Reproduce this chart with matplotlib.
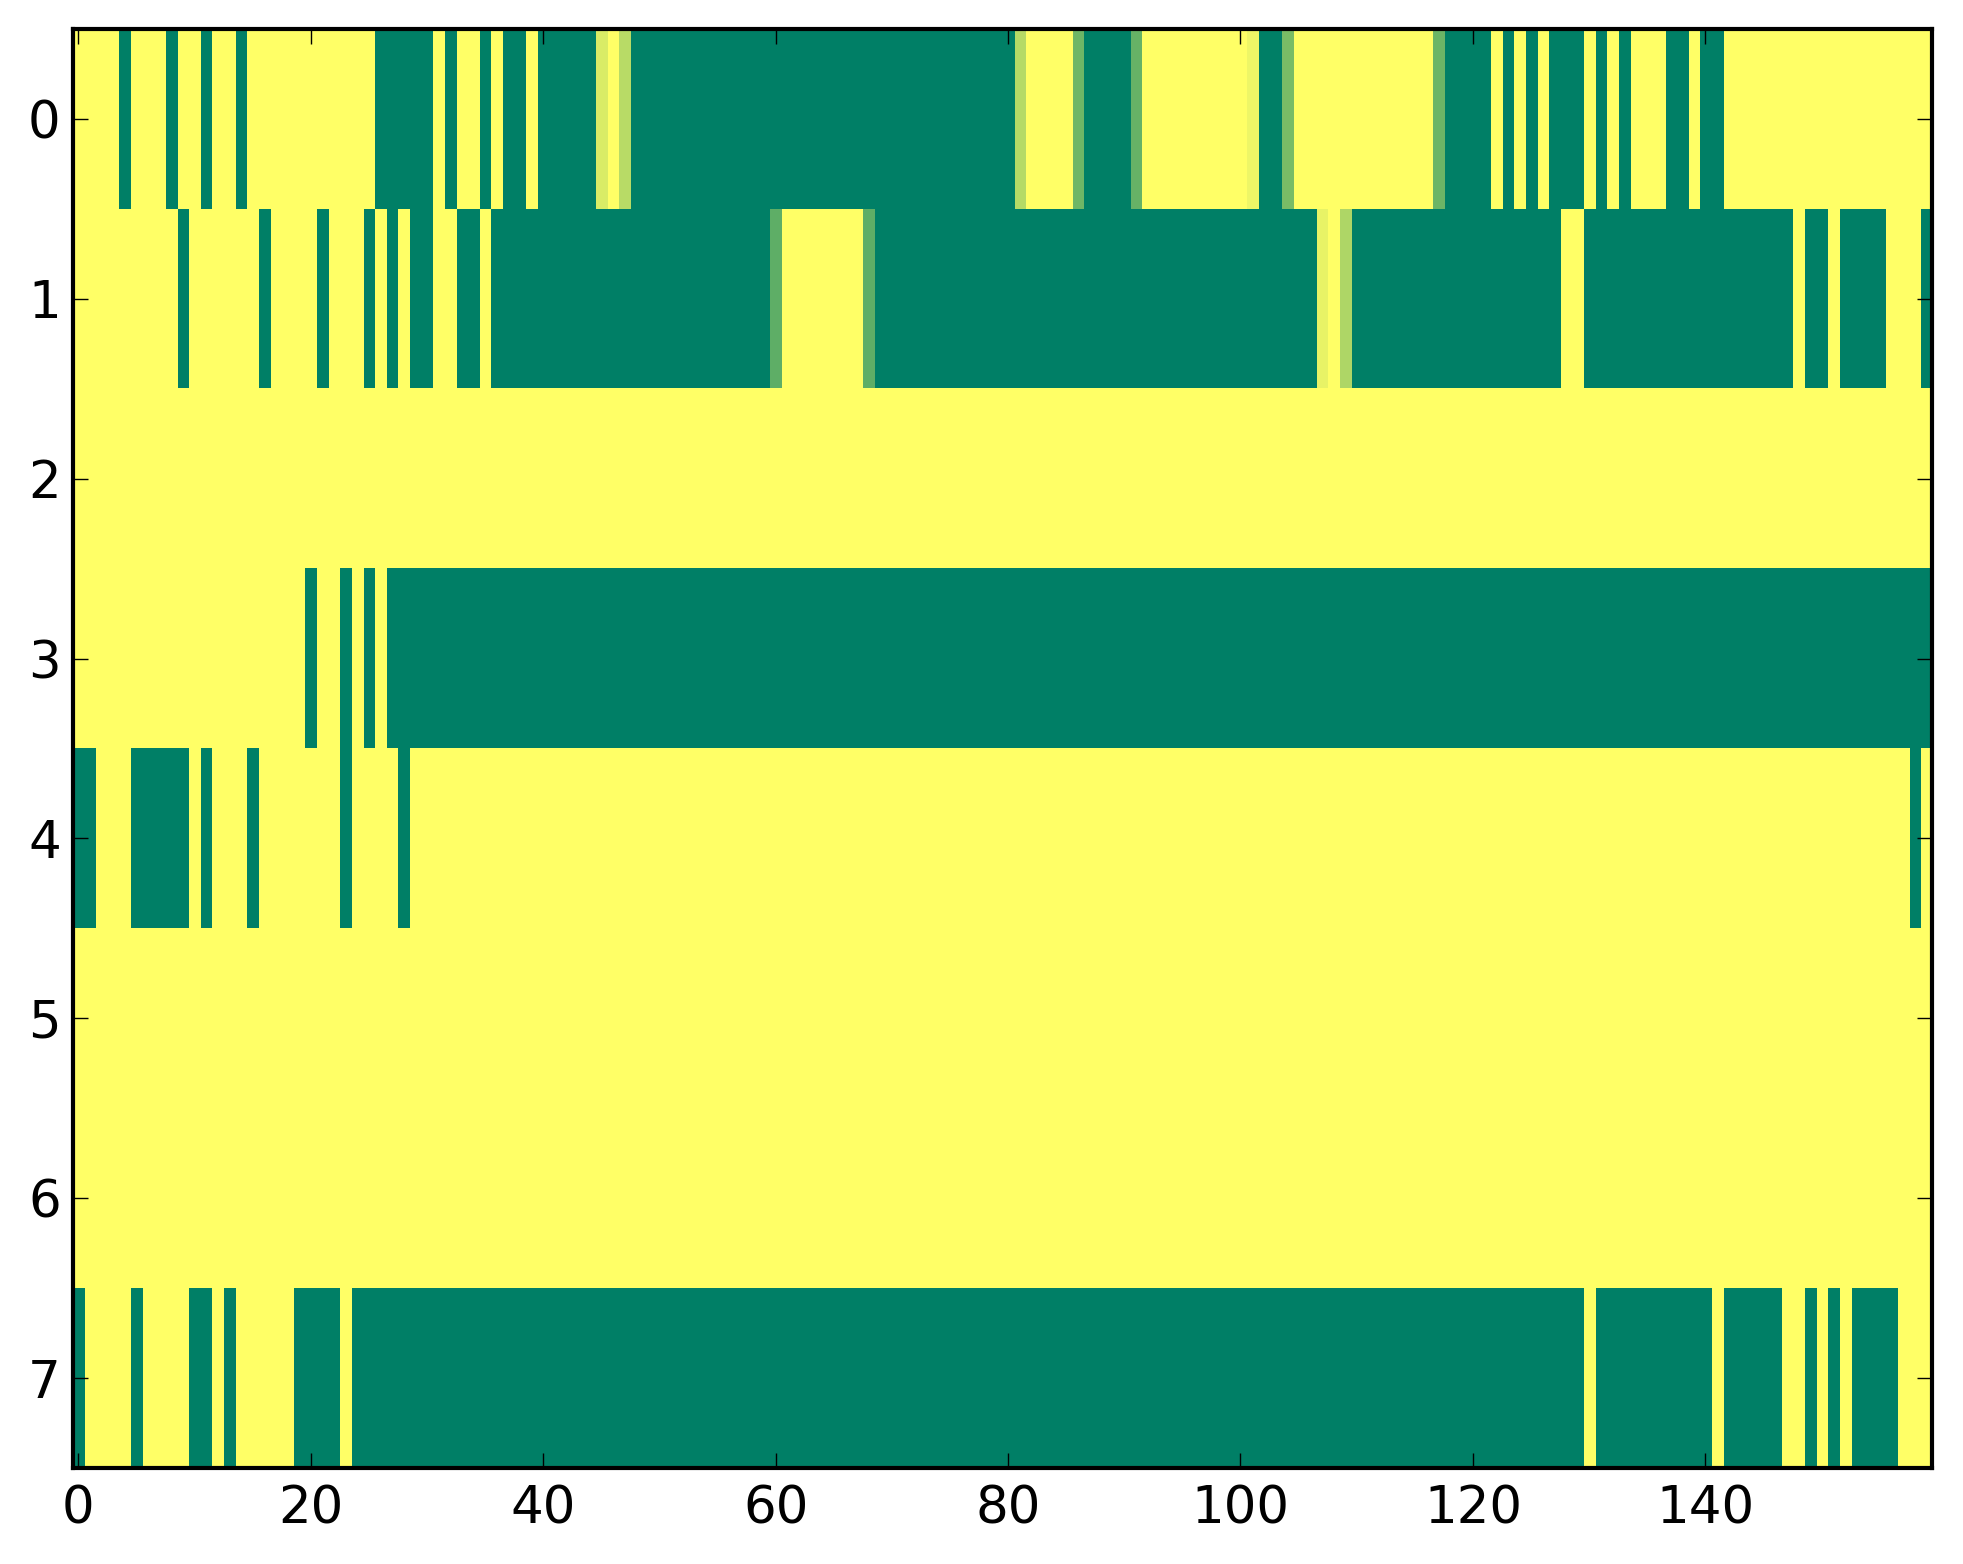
import numpy as np
import matplotlib
matplotlib.use("Agg")
import matplotlib.pyplot as plt

# one list per row, 160 columns each
row0 = [1, 1, 1, 1, 0, 1, 1, 1, 0, 1, 1, 0, 1, 1, 0, 1, 1, 1, 1, 1,
        1, 1, 1, 1, 1, 1, 0, 0, 0, 0, 0, 1, 0, 1, 1, 0, 1, 0, 0, 1,
        0, 0, 0, 0, 0, .85, 1, .72, 0, 0, 0, 0, 0, 0, 0, 0, 0, 0, 0, 0,
        0, 0, 0, 0, 0, 0, 0, 0, 0, 0, 0, 0, 0, 0, 0, 0, 0, 0, 0, 0,
        0, .71, 1, 1, 1, 1, .43, 0, 0, 0, 0, .40, 1, 1, 1, 1, 1, 1, 1, 1,
        1, .93, 0, 0, .48, 1, 1, 1, 1, 1, 1, 1, 1, 1, 1, 1, 1, .42, 0, 0,
        0, 0, 1, 0, 1, 0, 1, 0, 0, 0, 1, 0, 1, 0, 1, 1, 1, 0, 0, 1,
        0, 0, 1, 1, 1, 1, 1, 1, 1, 1, 1, 1, 1, 1, 1, 1, 1, 1, 1, 1]
row1 = [1, 1, 1, 1, 1, 1, 1, 1, 1, 0, 1, 1, 1, 1, 1, 1, 0, 1, 1, 1,
        1, 0, 1, 1, 1, 0, 1, 0, 1, 0, 0, 1, 1, 0, 0, 1, 0, 0, 0, 0,
        0, 0, 0, 0, 0, 0, 0, 0, 0, 0, 0, 0, 0, 0, 0, 0, 0, 0, 0, 0,
        .37, 1, 1, 1, 1, 1, 1, 1, .37, 0, 0, 0, 0, 0, 0, 0, 0, 0, 0, 0,
        0, 0, 0, 0, 0, 0, 0, 0, 0, 0, 0, 0, 0, 0, 0, 0, 0, 0, 0, 0,
        0, 0, 0, 0, 0, 0, 0, .91, 1, .68, 0, 0, 0, 0, 0, 0, 0, 0, 0, 0,
        0, 0, 0, 0, 0, 0, 0, 0, 1, 1, 0, 0, 0, 0, 0, 0, 0, 0, 0, 0,
        0, 0, 0, 0, 0, 0, 0, 0, 1, 0, 0, 1, 0, 0, 0, 0, 1, 1, 1, 0]
row2 = [1, 1, 1, 1, 1, 1, 1, 1, 1, 1, 1, 1, 1, 1, 1, 1, 1, 1, 1, 1,
        1, 1, 1, 1, 1, 1, 1, 1, 1, 1, 1, 1, 1, 1, 1, 1, 1, 1, 1, 1,
        1, 1, 1, 1, 1, 1, 1, 1, 1, 1, 1, 1, 1, 1, 1, 1, 1, 1, 1, 1,
        1, 1, 1, 1, 1, 1, 1, 1, 1, 1, 1, 1, 1, 1, 1, 1, 1, 1, 1, 1,
        1, 1, 1, 1, 1, 1, 1, 1, 1, 1, 1, 1, 1, 1, 1, 1, 1, 1, 1, 1,
        1, 1, 1, 1, 1, 1, 1, 1, 1, 1, 1, 1, 1, 1, 1, 1, 1, 1, 1, 1,
        1, 1, 1, 1, 1, 1, 1, 1, 1, 1, 1, 1, 1, 1, 1, 1, 1, 1, 1, 1,
        1, 1, 1, 1, 1, 1, 1, 1, 1, 1, 1, 1, 1, 1, 1, 1, 1, 1, 1, 1]
row3 = [1, 1, 1, 1, 1, 1, 1, 1, 1, 1, 1, 1, 1, 1, 1, 1, 1, 1, 1, 1,
        0, 1, 1, 0, 1, 0, 1, 0, 0, 0, 0, 0, 0, 0, 0, 0, 0, 0, 0, 0,
        0, 0, 0, 0, 0, 0, 0, 0, 0, 0, 0, 0, 0, 0, 0, 0, 0, 0, 0, 0,
        0, 0, 0, 0, 0, 0, 0, 0, 0, 0, 0, 0, 0, 0, 0, 0, 0, 0, 0, 0,
        0, 0, 0, 0, 0, 0, 0, 0, 0, 0, 0, 0, 0, 0, 0, 0, 0, 0, 0, 0,
        0, 0, 0, 0, 0, 0, 0, 0, 0, 0, 0, 0, 0, 0, 0, 0, 0, 0, 0, 0,
        0, 0, 0, 0, 0, 0, 0, 0, 0, 0, 0, 0, 0, 0, 0, 0, 0, 0, 0, 0,
        0, 0, 0, 0, 0, 0, 0, 0, 0, 0, 0, 0, 0, 0, 0, 0, 0, 0, 0, 0]
row4 = [0, 0, 1, 1, 1, 0, 0, 0, 0, 0, 1, 0, 1, 1, 1, 0, 1, 1, 1, 1,
        1, 1, 1, 0, 1, 1, 1, 1, 0, 1, 1, 1, 1, 1, 1, 1, 1, 1, 1, 1,
        1, 1, 1, 1, 1, 1, 1, 1, 1, 1, 1, 1, 1, 1, 1, 1, 1, 1, 1, 1,
        1, 1, 1, 1, 1, 1, 1, 1, 1, 1, 1, 1, 1, 1, 1, 1, 1, 1, 1, 1,
        1, 1, 1, 1, 1, 1, 1, 1, 1, 1, 1, 1, 1, 1, 1, 1, 1, 1, 1, 1,
        1, 1, 1, 1, 1, 1, 1, 1, 1, 1, 1, 1, 1, 1, 1, 1, 1, 1, 1, 1,
        1, 1, 1, 1, 1, 1, 1, 1, 1, 1, 1, 1, 1, 1, 1, 1, 1, 1, 1, 1,
        1, 1, 1, 1, 1, 1, 1, 1, 1, 1, 1, 1, 1, 1, 1, 1, 1, 1, 0, 1]
row5 = list(row2)
row6 = list(row2)
row7 = [0, 1, 1, 1, 1, 0, 1, 1, 1, 1, 0, 0, 1, 0, 1, 1, 1, 1, 1, 0,
        0, 0, 0, 1, 0, 0, 0, 0, 0, 0, 0, 0, 0, 0, 0, 0, 0, 0, 0, 0,
        0, 0, 0, 0, 0, 0, 0, 0, 0, 0, 0, 0, 0, 0, 0, 0, 0, 0, 0, 0,
        0, 0, 0, 0, 0, 0, 0, 0, 0, 0, 0, 0, 0, 0, 0, 0, 0, 0, 0, 0,
        0, 0, 0, 0, 0, 0, 0, 0, 0, 0, 0, 0, 0, 0, 0, 0, 0, 0, 0, 0,
        0, 0, 0, 0, 0, 0, 0, 0, 0, 0, 0, 0, 0, 0, 0, 0, 0, 0, 0, 0,
        0, 0, 0, 0, 0, 0, 0, 0, 0, 0, 1, 0, 0, 0, 0, 0, 0, 0, 0, 0,
        0, 1, 0, 0, 0, 0, 0, 1, 1, 0, 1, 0, 1, 0, 0, 0, 0, 1, 1, 1]

x_ticks = [0, 20, 40, 60, 80, 100, 120, 140]
y_ticks = [0, 1, 2, 3, 4, 5, 6, 7]

grid = np.array([row0, row1, row2, row3, row4, row5, row6, row7], dtype=float)

W, H = 1963, 1564
fig = plt.figure(figsize=(W / 100, H / 100), dpi=100)
ax = fig.add_axes([72.5 / W, 96 / H, 1859.5 / W, 1439 / H])

ax.imshow(grid, cmap="summer", vmin=0, vmax=1, aspect="auto",
          interpolation="nearest")

ax.set_xticks(x_ticks)
ax.set_yticks(y_ticks)
ax.tick_params(direction="in", length=10.8, width=1.0, top=True, right=True,
               labelsize=37)
ax.tick_params(axis="x", pad=12)
ax.tick_params(axis="y", pad=8.5)
for s in ax.spines.values():
    s.set_linewidth(3.0)

fig.savefig("out.png", dpi=100)
